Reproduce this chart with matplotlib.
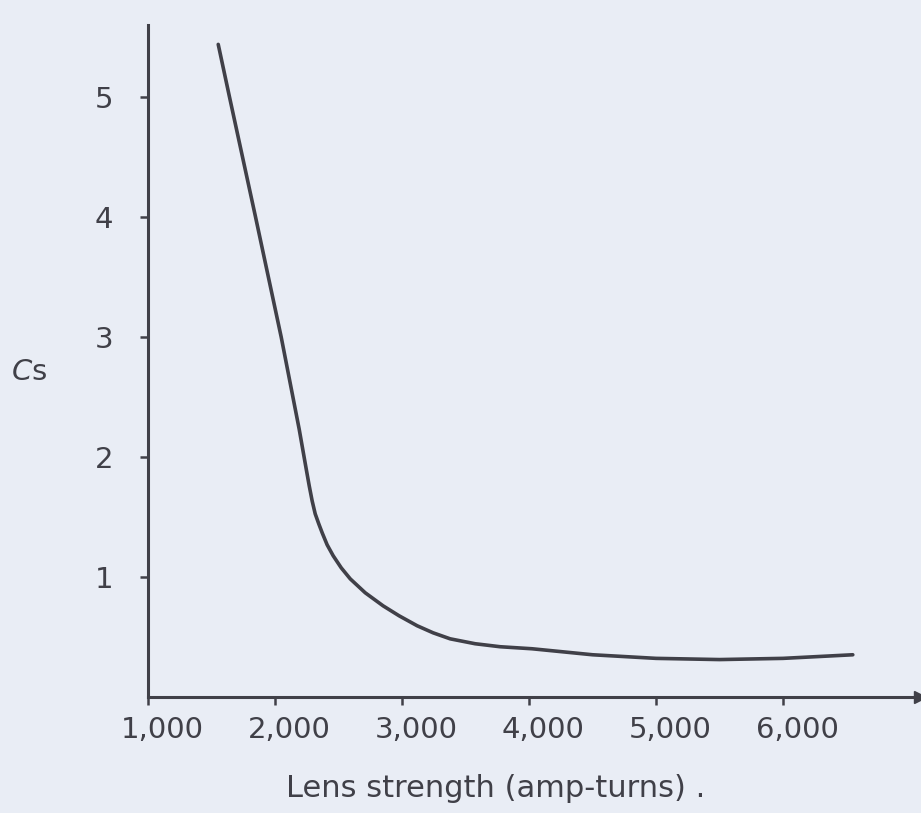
import matplotlib
matplotlib.use("Agg")
import matplotlib.pyplot as plt
from matplotlib.transforms import ScaledTranslation

# values
lens_strength = [1551, 1638, 1843, 2047, 2189, 2244, 2268, 2291, 2315, 2343,
                 2370, 2409, 2457, 2520, 2591, 2709, 2850, 2976, 3118, 3244,
                 3378, 3575, 3772, 4024, 4500, 5000, 5500, 6000, 6550]
cs = [5.44, 5.01, 4.01, 3.0, 2.23, 1.90, 1.758, 1.633, 1.525, 1.442,
      1.367, 1.267, 1.175, 1.075, 0.983, 0.867, 0.758, 0.675, 0.592, 0.533,
      0.483, 0.442, 0.417, 0.40, 0.35, 0.32, 0.31, 0.32, 0.35]

xticks = [1000, 2000, 3000, 4000, 5000, 6000]
xtick_labels = ["1,000", "2,000", "3,000", "4,000", "5,000", "6,000"]
yticks = [1, 2, 3, 4, 5]

bg = "#e9edf5"
ink = "#404048"

fig = plt.figure(figsize=(9.21, 8.13), dpi=100, facecolor=bg)
ax = fig.add_axes([0.161, 0.143, 0.838, 0.826])
ax.set_facecolor(bg)

ax.plot(lens_strength, cs, color=ink, lw=2.6, solid_capstyle="round",
        solid_joinstyle="round")

ax.set_xlim(1000, 7080)
ax.set_ylim(0, 5.6)

for side in ("top", "right"):
    ax.spines[side].set_visible(False)
for side in ("left", "bottom"):
    ax.spines[side].set_color(ink)
    ax.spines[side].set_linewidth(2.2)

# arrow head at end of x axis
ax.plot([1], [0], marker=">", ms=9, color=ink, transform=ax.transAxes,
        clip_on=False)

ax.set_xticks(xticks)
ax.set_xticklabels(xtick_labels)
ax.set_yticks(yticks)
ax.tick_params(axis="x", direction="out", length=6, width=1.8, colors=ink,
               labelsize=21, pad=8)
ax.tick_params(axis="y", direction="out", length=6, width=1.8, colors=ink,
               labelsize=21, pad=19)
# hand lettering sits a little right of each tick
shift = ScaledTranslation(0.14, 0, fig.dpi_scale_trans)
for lab in ax.get_xticklabels():
    lab.set_transform(lab.get_transform() + shift)

ax.set_xlabel("Lens strength (amp-turns) .", fontsize=22, color=ink)
ax.xaxis.set_label_coords(0.45, -0.115)
ax.set_ylabel(r"$C$s", fontsize=21, color=ink, rotation=0)
ax.yaxis.set_label_coords(-0.155, 0.462)

fig.savefig("out.png", dpi=100, facecolor=bg)
